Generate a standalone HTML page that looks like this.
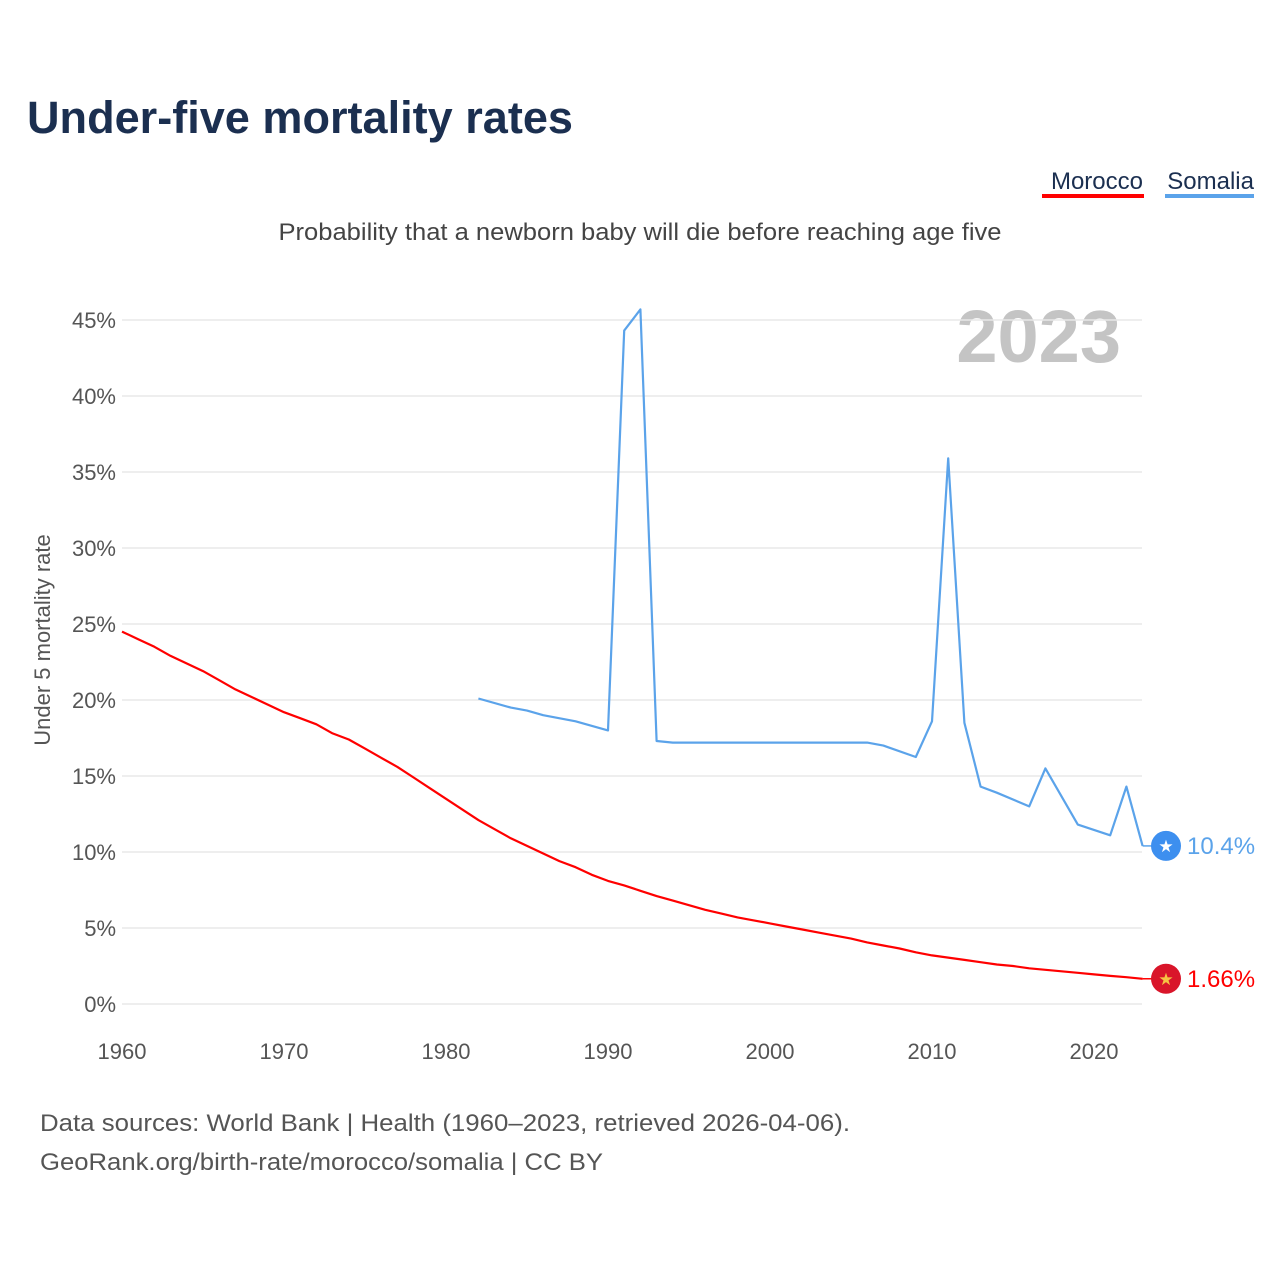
<!DOCTYPE html>
<html><head><meta charset="utf-8"><style>
body{margin:0;background:#fff;width:1280px;height:1280px;overflow:hidden;font-family:"Liberation Sans",sans-serif}
</style></head><body>
<svg width="1280" height="1280" xmlns="http://www.w3.org/2000/svg">
<text x="27" y="133" font-size="45" font-weight="bold" fill="#1b2f50" textLength="546" lengthAdjust="spacingAndGlyphs">Under-five mortality rates</text>
<g>
<text x="1143" y="189" font-size="24" fill="#1b2f50" text-anchor="end">Morocco</text>
<rect x="1042" y="194" width="102" height="4" fill="#ff0000"/>
<text x="1254" y="189" font-size="24" fill="#1b2f50" text-anchor="end">Somalia</text>
<rect x="1165" y="194" width="89" height="4" fill="#5ba3ea"/>
</g>
<text x="640" y="240" font-size="24" fill="#444" text-anchor="middle" textLength="723" lengthAdjust="spacingAndGlyphs">Probability that a newborn baby will die before reaching age five</text>
<text x="1121" y="362" font-size="74" font-weight="bold" fill="#c4c4c4" text-anchor="end">2023</text>
<text transform="translate(50,640) rotate(-90)" font-size="22" fill="#555" text-anchor="middle">Under 5 mortality rate</text>
<g id="grid"></g><g id="yticks"></g><g id="xticks"></g><g id="lines"></g><g id="ends"></g>
<text x="40" y="1131" font-size="24" fill="#555" textLength="810" lengthAdjust="spacingAndGlyphs">Data sources: World Bank | Health (1960–2023, retrieved 2026-04-06).</text>
<text x="40" y="1170" font-size="24" fill="#555" textLength="563" lengthAdjust="spacingAndGlyphs">GeoRank.org/birth-rate/morocco/somalia | CC BY</text>
</svg>
<script>
const yTicks=[0,5,10,15,20,25,30,35,40,45];
const xTicks=[1960,1970,1980,1990,2000,2010,2020];
const moroccoYears=[1960,1961,1962,1963,1964,1965,1966,1967,1968,1969,1970,1971,1972,1973,1974,1975,1976,1977,1978,1979,1980,1981,1982,1983,1984,1985,1986,1987,1988,1989,1990,1991,1992,1993,1994,1995,1996,1997,1998,1999,2000,2001,2002,2003,2004,2005,2006,2007,2008,2009,2010,2011,2012,2013,2014,2015,2016,2017,2018,2019,2020,2021,2022,2023];
const moroccoValues=[24.5,24.0,23.5,22.9,22.4,21.9,21.3,20.7,20.2,19.7,19.2,18.8,18.4,17.8,17.4,16.8,16.2,15.6,14.9,14.2,13.5,12.8,12.1,11.5,10.9,10.4,9.9,9.4,9.0,8.5,8.1,7.8,7.45,7.1,6.8,6.5,6.2,5.95,5.7,5.5,5.3,5.1,4.9,4.7,4.5,4.3,4.05,3.85,3.65,3.4,3.2,3.05,2.9,2.75,2.6,2.5,2.35,2.25,2.15,2.05,1.95,1.85,1.76,1.66];
const somaliaYears=[1982,1984,1985,1986,1988,1990,1991,1992,1993,1994,2006,2007,2009,2010,2011,2012,2013,2014,2016,2017,2019,2021,2022,2023];
const somaliaValues=[20.1,19.5,19.3,19.0,18.6,18.0,44.3,45.7,17.3,17.2,17.2,17.0,16.25,18.6,35.9,18.5,14.3,13.9,13.0,15.5,11.8,11.1,14.3,10.4];
const X=y=>122+(y-1960)*16.2;
const Y=v=>1004-v*15.2;
const NS='http://www.w3.org/2000/svg';
function mk(tag,attrs,parent,txt){const e=document.createElementNS(NS,tag);for(const k in attrs)e.setAttribute(k,attrs[k]);if(txt!==undefined)e.textContent=txt;document.getElementById(parent).appendChild(e);return e;}
yTicks.forEach(t=>{
 const l=mk('line',{x1:122,x2:1142,y1:Y(t),y2:Y(t),stroke:'#e8e8e8','stroke-width':1.5},'grid');
 
 
 const tx=mk('text',{x:116,y:Y(t)+8,'font-size':22,fill:'#555','text-anchor':'end'},'yticks',t+'%');
 
 
});
xTicks.forEach(t=>{
 const tx=mk('text',{x:X(t),y:1059,'font-size':22,fill:'#555','text-anchor':'middle'},'xticks',String(t));
 
 
});
function pts(ys,vs){return ys.map((y,i)=>X(y).toFixed(1)+','+Y(vs[i]).toFixed(1)).join(' ');}
const m=mk('polyline',{points:pts(moroccoYears,moroccoValues),fill:'none',stroke:'#ff0000','stroke-width':2.2,'stroke-linejoin':'round'},'lines');


const s=mk('polyline',{points:pts(somaliaYears,somaliaValues),fill:'none',stroke:'#5ba3ea','stroke-width':2.2,'stroke-linejoin':'round'},'lines');


function endMark(years,vals,col,circ,starCol,label,name){
 const v=vals[vals.length-1],x=X(years[years.length-1]),y=Y(v);
 mk('line',{x1:x,x2:1152,y1:y,y2:y,stroke:col,'stroke-width':1.5},'ends');
 const c=mk('circle',{cx:1166,cy:y,r:15,fill:circ},'ends');
 
 
 mk('text',{x:1166,y:y+6,'font-size':17,fill:starCol,'text-anchor':'middle'},'ends','★');
 const t=mk('text',{x:1187,y:y+8,'font-size':24,fill:col},'ends',label);
 
 
}
endMark(somaliaYears,somaliaValues,'#5ba3ea','#3d8fef','#fff','10.4%','somalia');
endMark(moroccoYears,moroccoValues,'#ff0000','#d9152a','#f6c343','1.66%','morocco');
</script>
</body></html>
